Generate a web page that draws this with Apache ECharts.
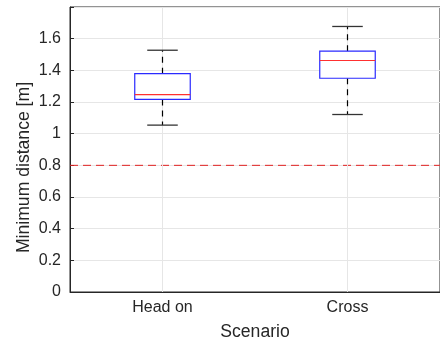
<!DOCTYPE html>
<html><head><meta charset="utf-8">
<script src="https://cdn.jsdelivr.net/npm/echarts@6/dist/echarts.min.js"></script>
<style>html,body{margin:0;padding:0;background:#fff}#c{width:440px;height:346px}</style>
</head><body><div id="c"></div>
<script>
var categories = ['Head on', 'Cross'];
var whiskerLow = [1.054, 1.121];
var q1 = [1.216, 1.350];
var median = [1.246, 1.462];
var q3 = [1.379, 1.521];
var whiskerHigh = [1.527, 1.677];
var threshold = 0.8;
var yTicks = [0, 0.2, 0.4, 0.6, 0.8, 1, 1.2, 1.4, 1.6];

var data = categories.map(function (c, i) {
  return [i, whiskerLow[i], q1[i], median[i], q3[i], whiskerHigh[i]];
});

var chart = echarts.init(document.getElementById('c'), null, {renderer: 'canvas'});
var font = 'Helvetica, Arial, "Liberation Sans", sans-serif';
chart.setOption({
  animation: false,
  grid: {left: 70, top: 7, width: 375, height: 288, show: true, borderColor: '#262626', borderWidth: 1, backgroundColor: 'transparent'},
  xAxis: {
    type: 'category', data: categories, boundaryGap: true,
    name: 'Scenario', nameLocation: 'middle', nameGap: 31,
    nameMoveOverlap: false,
    nameTextStyle: {color: '#262626', fontSize: 17.6, fontFamily: font},
    axisLine: {lineStyle: {color: '#262626'}},
    axisTick: {alignWithLabel: true, inside: true, length: 4, lineStyle: {color: '#262626'}},
    axisLabel: {color: '#262626', fontSize: 16, fontFamily: font, margin: 8},
    splitLine: {show: false}
  },
  yAxis: {
    type: 'value', min: 0, max: 1.8, interval: 0.2,
    name: 'Minimum distance [m]', nameLocation: 'middle', nameGap: 37,
    nameMoveOverlap: false,
    nameTextStyle: {color: '#262626', fontSize: 17.6, fontFamily: font, padding: [0, 36, 0, 0]},
    axisLine: {show: true, lineStyle: {color: '#262626'}},
    axisTick: {show: true, inside: true, length: 4, lineStyle: {color: '#262626'}},
    axisLabel: {color: '#262626', fontSize: 16, fontFamily: font, margin: 9,
      formatter: function (v) { var r = Math.round(v * 10) / 10; return (yTicks.indexOf(r) >= 0 && Math.abs(v - r) < 1e-6) ? String(r) : ''; }},
    splitLine: {show: true, lineStyle: {color: '#e6e6e6'}}
  },
  series: [{
    type: 'line', data: [], silent: true, z: 1,
    markLine: {
      symbol: 'none', silent: true, label: {show: false},
      lineStyle: {color: '#e6e6e6', type: 'solid', width: 1},
      data: categories.map(function (c) { return {xAxis: c}; })
    }
  }, {
    type: 'custom', silent: true, z: 3,
    data: [[0, threshold]],
    renderItem: function (params, api) {
      var cs = params.coordSys;
      var p = api.coord([0, api.value(1)]);
      return {type: 'line', shape: {x1: cs.x, y1: p[1], x2: cs.x + cs.width, y2: p[1]},
        style: {stroke: '#e02020', lineWidth: 1, lineDash: [8, 5]}};
    }
  }, {
    type: 'custom',
    data: data,
    z: 5,
    renderItem: function (params, api) {
      var x = api.value(0);
      var lo = api.coord([x, api.value(1)]);
      var b1 = api.coord([x, api.value(2)]);
      var md = api.coord([x, api.value(3)]);
      var b3 = api.coord([x, api.value(4)]);
      var hi = api.coord([x, api.value(5)]);
      var band = api.size([1, 0])[0];
      var bw = band * 0.30;
      var cw = band * 0.165;
      var cx = lo[0];
      return {type: 'group', children: [
        {type: 'line', shape: {x1: cx, y1: b3[1], x2: cx, y2: hi[1]}, style: {stroke: '#000', lineWidth: 1.2, lineDash: [6, 5]}},
        {type: 'line', shape: {x1: cx, y1: b1[1], x2: cx, y2: lo[1]}, style: {stroke: '#000', lineWidth: 1.2, lineDash: [6, 5]}},
        {type: 'line', shape: {x1: cx - cw / 2, y1: hi[1], x2: cx + cw / 2, y2: hi[1]}, style: {stroke: '#333', lineWidth: 1.3}},
        {type: 'line', shape: {x1: cx - cw / 2, y1: lo[1], x2: cx + cw / 2, y2: lo[1]}, style: {stroke: '#333', lineWidth: 1.3}},
        {type: 'rect', shape: {x: cx - bw / 2, y: b3[1], width: bw, height: b1[1] - b3[1]}, style: {fill: '#fff', stroke: '#2a2aff', lineWidth: 1.2}},
        {type: 'line', shape: {x1: cx - bw / 2, y1: md[1], x2: cx + bw / 2, y2: md[1]}, style: {stroke: '#ff3030', lineWidth: 1.2}}
      ]};
    }
  }]
});
</script></body></html>
